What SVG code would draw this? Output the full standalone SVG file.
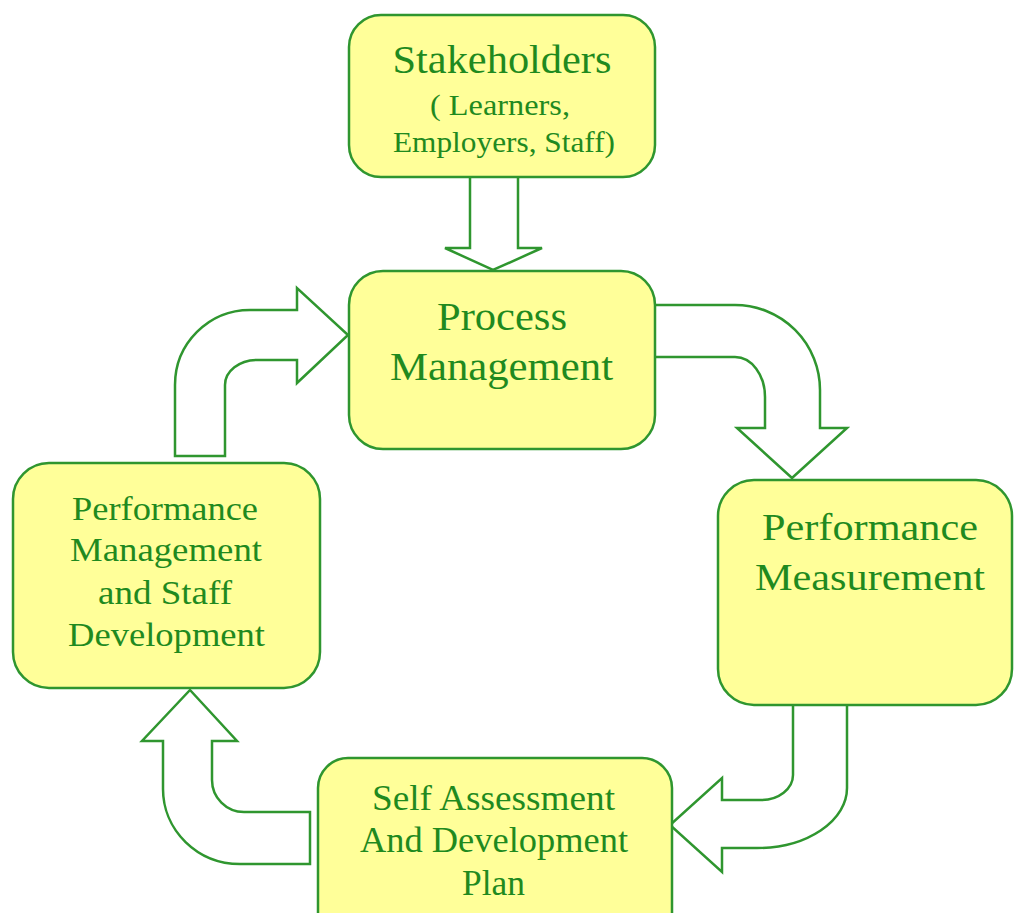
<svg xmlns="http://www.w3.org/2000/svg" width="1014" height="913" viewBox="0 0 1014 913">
<style>
.box{fill:#ffff99;stroke:#2f962f;stroke-width:2.5}
.arr{fill:#ffffff;stroke:#2f962f;stroke-width:2.5;stroke-linejoin:miter}
text{font-family:"Liberation Serif","Times New Roman",serif;fill:#1f8a1f;text-anchor:middle}
</style>
<rect width="1014" height="913" fill="#ffffff"/>
<g id="connectors">
<path class="arr" d="M470,177 V248 H445 L493,270 L542,248 H518 V177"/>
<path class="arr" d="M655,305 H735 A85,85 0 0 1 820,390 V428 H847 L792,478 L737,428 H765 V397 A30,40 0 0 0 735,357 H655"/>
<path class="arr" d="M793,705 V775 A32,25 0 0 1 761,800 H722 V778 L670,825 L722,872 V848 H757 A90,60 0 0 0 847,788 V705"/>
<path class="arr" d="M310,864 H240 A77,75 0 0 1 163,789 V741 H142 L190,690 L237,741 H212 V780 A32,32 0 0 0 244,812 H310 Z"/>
<path class="arr" d="M175,456 V385 A75,75 0 0 1 250,310 H297 V288 L348,335 L297,383 V360 H257 A32,25 0 0 0 225,385 V456 Z"/>
</g>
<g id="stakeholders">
<rect class="box" x="349" y="15" width="306" height="162" rx="32"/>
<text x="502" y="73" font-size="39" textLength="219" lengthAdjust="spacingAndGlyphs">Stakeholders</text>
<text x="500" y="115" font-size="29" textLength="140" lengthAdjust="spacingAndGlyphs">( Learners,</text>
<text x="504" y="152" font-size="29" textLength="222" lengthAdjust="spacingAndGlyphs">Employers, Staff)</text>
</g>
<g id="process-management">
<rect class="box" x="349" y="271" width="306" height="178" rx="34"/>
<text x="502" y="330" font-size="40" textLength="130" lengthAdjust="spacingAndGlyphs">Process</text>
<text x="501.5" y="380" font-size="40" textLength="223" lengthAdjust="spacingAndGlyphs">Management</text>
</g>
<g id="performance-measurement">
<rect class="box" x="718" y="480" width="294" height="225" rx="36"/>
<text x="870" y="540" font-size="38" textLength="216" lengthAdjust="spacingAndGlyphs">Performance</text>
<text x="870" y="590" font-size="38" textLength="230" lengthAdjust="spacingAndGlyphs">Measurement</text>
</g>
<g id="self-assessment">
<rect class="box" x="318" y="758" width="354" height="185" rx="30"/>
<text x="493.5" y="810" font-size="35" textLength="243" lengthAdjust="spacingAndGlyphs">Self Assessment</text>
<text x="494" y="852" font-size="35" textLength="268" lengthAdjust="spacingAndGlyphs">And Development</text>
<text x="493.5" y="895" font-size="35" textLength="63" lengthAdjust="spacingAndGlyphs">Plan</text>
</g>
<g id="performance-management">
<rect class="box" x="13" y="463" width="307" height="225" rx="36"/>
<text x="165" y="520" font-size="33" textLength="186" lengthAdjust="spacingAndGlyphs">Performance</text>
<text x="166" y="561" font-size="33" textLength="192" lengthAdjust="spacingAndGlyphs">Management</text>
<text x="165" y="604" font-size="33" textLength="134" lengthAdjust="spacingAndGlyphs">and Staff</text>
<text x="166.5" y="646" font-size="33" textLength="197" lengthAdjust="spacingAndGlyphs">Development</text>
</g>
</svg>
